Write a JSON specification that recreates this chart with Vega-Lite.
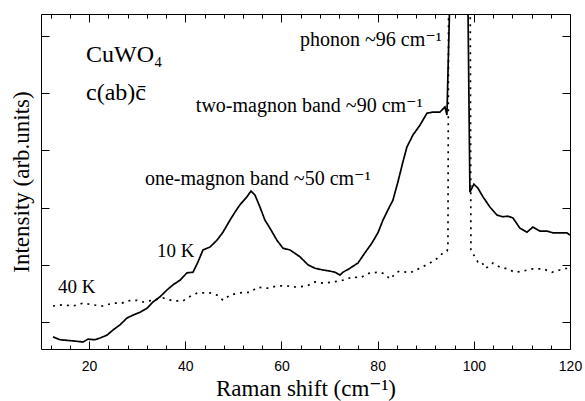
{
  "$schema": "https://vega.github.io/schema/vega-lite/v6.json",
  "width": 529,
  "height": 335,
  "autosize": "none",
  "padding": {"left": 41, "top": 14, "right": 15, "bottom": 52},
  "background": "white",
  "config": {
    "view": {"stroke": "black", "strokeWidth": 1},
    "axis": {"grid": false, "domain": false, "tickColor": "black", "tickWidth": 1, "labelColor": "black", "titleColor": "black", "labelFont": "Liberation Sans, Arial, sans-serif", "labelFontSize": 14, "titleFont": "Times New Roman, Liberation Serif, DejaVu Serif, serif", "titleFontSize": 23, "titleFontWeight": "normal"}
  },
  "datasets": {
    "spec": [
      {"T":"10K","x":12.49,"y":-0.26},{"T":"10K","x":13.95,"y":-0.31},{"T":"10K","x":16.65,"y":-0.33},{"T":"10K","x":18.73,"y":-0.35},{"T":"10K","x":19.77,"y":-0.30},{"T":"10K","x":21.23,"y":-0.31},{"T":"10K","x":22.27,"y":-0.28},{"T":"10K","x":23.72,"y":-0.23},{"T":"10K","x":24.97,"y":-0.14},{"T":"10K","x":26.42,"y":-0.05},{"T":"10K","x":27.88,"y":0.07},{"T":"10K","x":29.13,"y":0.12},{"T":"10K","x":30.58,"y":0.17},{"T":"10K","x":32.04,"y":0.24},{"T":"10K","x":33.28,"y":0.35},{"T":"10K","x":34.74,"y":0.44},{"T":"10K","x":36.20,"y":0.56},{"T":"10K","x":37.44,"y":0.65},{"T":"10K","x":38.90,"y":0.73},{"T":"10K","x":40.35,"y":0.86},{"T":"10K","x":41.60,"y":0.87},{"T":"10K","x":42.64,"y":1.05},{"T":"10K","x":43.68,"y":1.26},{"T":"10K","x":45.13,"y":1.31},{"T":"10K","x":46.59,"y":1.43},{"T":"10K","x":47.84,"y":1.57},{"T":"10K","x":49.29,"y":1.78},{"T":"10K","x":50.33,"y":1.92},{"T":"10K","x":51.37,"y":2.05},{"T":"10K","x":52.83,"y":2.19},{"T":"10K","x":53.66,"y":2.29},{"T":"10K","x":54.49,"y":2.22},{"T":"10K","x":55.53,"y":2.01},{"T":"10K","x":56.57,"y":1.78},{"T":"10K","x":57.61,"y":1.64},{"T":"10K","x":59.06,"y":1.43},{"T":"10K","x":60.31,"y":1.29},{"T":"10K","x":61.77,"y":1.26},{"T":"10K","x":63.85,"y":1.14},{"T":"10K","x":65.51,"y":1.00},{"T":"10K","x":66.96,"y":0.94},{"T":"10K","x":68.63,"y":0.91},{"T":"10K","x":70.08,"y":0.89},{"T":"10K","x":71.12,"y":0.87},{"T":"10K","x":72.16,"y":0.82},{"T":"10K","x":72.79,"y":0.87},{"T":"10K","x":74.24,"y":0.94},{"T":"10K","x":75.90,"y":1.03},{"T":"10K","x":77.36,"y":1.21},{"T":"10K","x":78.81,"y":1.38},{"T":"10K","x":80.06,"y":1.56},{"T":"10K","x":81.10,"y":1.78},{"T":"10K","x":82.14,"y":1.96},{"T":"10K","x":83.18,"y":2.13},{"T":"10K","x":84.22,"y":2.45},{"T":"10K","x":85.26,"y":2.80},{"T":"10K","x":86.09,"y":3.06},{"T":"10K","x":87.34,"y":3.27},{"T":"10K","x":88.79,"y":3.44},{"T":"10K","x":90.25,"y":3.65},{"T":"10K","x":91.50,"y":3.67},{"T":"10K","x":92.95,"y":3.67},{"T":"10K","x":93.99,"y":3.76},{"T":"10K","x":94.41,"y":3.62},{"T":"10K","x":95.4,"y":7.0},{"T":"10K","x":97.0,"y":7.5},{"T":"10K","x":98.6,"y":7.0},{"T":"10K","x":99.19,"y":2.27},{"T":"10K","x":100.02,"y":2.41},{"T":"10K","x":100.85,"y":2.34},{"T":"10K","x":101.89,"y":2.19},{"T":"10K","x":103.35,"y":2.01},{"T":"10K","x":104.80,"y":1.87},{"T":"10K","x":106.05,"y":1.84},{"T":"10K","x":107.09,"y":1.85},{"T":"10K","x":108.13,"y":1.82},{"T":"10K","x":109.58,"y":1.64},{"T":"10K","x":111.04,"y":1.57},{"T":"10K","x":112.29,"y":1.66},{"T":"10K","x":113.74,"y":1.59},{"T":"10K","x":115.20,"y":1.59},{"T":"10K","x":116.44,"y":1.56},{"T":"10K","x":117.90,"y":1.56},{"T":"10K","x":119.36,"y":1.56},{"T":"10K","x":119.98,"y":1.52},
      {"T":"40K","x":12.49,"y":0.28},{"T":"40K","x":14.57,"y":0.30},{"T":"40K","x":16.65,"y":0.28},{"T":"40K","x":18.73,"y":0.33},{"T":"40K","x":20.81,"y":0.30},{"T":"40K","x":22.89,"y":0.28},{"T":"40K","x":24.97,"y":0.33},{"T":"40K","x":26.84,"y":0.33},{"T":"40K","x":27.88,"y":0.37},{"T":"40K","x":29.96,"y":0.38},{"T":"40K","x":31.21,"y":0.35},{"T":"40K","x":33.28,"y":0.38},{"T":"40K","x":35.36,"y":0.42},{"T":"40K","x":37.44,"y":0.37},{"T":"40K","x":39.52,"y":0.37},{"T":"40K","x":41.39,"y":0.47},{"T":"40K","x":42.64,"y":0.51},{"T":"40K","x":45.13,"y":0.51},{"T":"40K","x":46.59,"y":0.47},{"T":"40K","x":47.84,"y":0.38},{"T":"40K","x":49.29,"y":0.47},{"T":"40K","x":51.37,"y":0.51},{"T":"40K","x":53.45,"y":0.52},{"T":"40K","x":55.11,"y":0.61},{"T":"40K","x":56.99,"y":0.59},{"T":"40K","x":59.06,"y":0.63},{"T":"40K","x":61.14,"y":0.63},{"T":"40K","x":63.22,"y":0.61},{"T":"40K","x":65.30,"y":0.63},{"T":"40K","x":66.96,"y":0.70},{"T":"40K","x":68.63,"y":0.68},{"T":"40K","x":70.71,"y":0.70},{"T":"40K","x":72.79,"y":0.73},{"T":"40K","x":74.86,"y":0.79},{"T":"40K","x":76.32,"y":0.77},{"T":"40K","x":78.40,"y":0.86},{"T":"40K","x":80.48,"y":0.87},{"T":"40K","x":81.52,"y":0.84},{"T":"40K","x":82.56,"y":0.75},{"T":"40K","x":84.01,"y":0.87},{"T":"40K","x":84.64,"y":0.89},{"T":"40K","x":86.72,"y":0.86},{"T":"40K","x":88.79,"y":0.94},{"T":"40K","x":90.87,"y":1.03},{"T":"40K","x":92.54,"y":1.12},{"T":"40K","x":93.58,"y":1.21},{"T":"40K","x":94.41,"y":1.24},{"T":"40K","x":94.62,"y":1.29},{"T":"40K","x":94.8,"y":7.0},{"T":"40K","x":97.0,"y":7.6},{"T":"40K","x":99.2,"y":7.0},{"T":"40K","x":99.40,"y":1.26},{"T":"40K","x":99.61,"y":1.22},{"T":"40K","x":100.23,"y":1.14},{"T":"40K","x":100.85,"y":1.05},{"T":"40K","x":101.68,"y":1.05},{"T":"40K","x":102.31,"y":0.94},{"T":"40K","x":102.93,"y":0.96},{"T":"40K","x":103.97,"y":1.03},{"T":"40K","x":105.43,"y":0.96},{"T":"40K","x":106.88,"y":0.93},{"T":"40K","x":108.54,"y":0.87},{"T":"40K","x":110.21,"y":0.89},{"T":"40K","x":112.29,"y":0.93},{"T":"40K","x":114.37,"y":0.93},{"T":"40K","x":116.24,"y":0.87},{"T":"40K","x":117.90,"y":0.91},{"T":"40K","x":119.36,"y":0.94},{"T":"40K","x":119.98,"y":0.96}
    ],
    "big": [
      {"label": "CuWO₄", "x": 19.36, "y": 4.55},
      {"label": "c(ab)c̄", "x": 19.36, "y": 3.88}
    ],
    "bands": [
      {"label": "phonon ~96 cm⁻¹", "x": 63.85, "y": 4.83},
      {"label": "two-magnon band ~90 cm⁻¹", "x": 42.2, "y": 3.67},
      {"label": "one-magnon band ~50 cm⁻¹", "x": 31.62, "y": 2.40}
    ],
    "temps": [
      {"label": "10 K", "x": 34.12, "y": 1.14},
      {"label": "40 K", "x": 13.53, "y": 0.51}
    ]
  },
  "resolve": {"axis": {"x": "independent", "y": "independent"}},
  "layer": [
    {
      "data": {"name": "spec"},
      "mark": {"type": "line", "clip": true, "strokeWidth": 1.7, "color": "black"},
      "encoding": {
        "x": {"field": "x", "type": "quantitative", "scale": {"domain": [10, 120], "nice": false, "zero": false},
          "title": "Raman shift (cm⁻¹)",
          "axis": {"orient": "bottom", "values": [12,16,20,24,28,32,36,40,44,48,52,56,60,64,68,72,76,80,84,88,92,96,100,104,108,112,116,120],
            "tickSize": {"condition": {"test": "datum.value % 20 === 0", "value": -8}, "value": -4},
            "labelExpr": "datum.value % 20 === 0 ? datum.label : ''",
            "labelPadding": 18, "labelFlush": false, "titlePadding": 4}},
        "y": {"field": "y", "type": "quantitative", "scale": {"domain": [-0.472, 5.385], "nice": false, "zero": false},
          "title": "Intensity (arb.units)",
          "axis": {"orient": "left", "values": [0,1,2,3,4,5], "tickSize": -8, "labels": false, "titlePadding": 7}},
        "strokeDash": {"field": "T", "type": "nominal", "scale": {"domain": ["10K", "40K"], "range": [[1, 0], [2, 5]]}, "legend": null}
      }
    },
    {
      "data": {"name": "big"},
      "mark": {"type": "text", "align": "left", "baseline": "alphabetic", "font": "Times New Roman, Liberation Serif, DejaVu Serif, serif", "fontSize": 24, "color": "black"},
      "encoding": {
        "x": {"field": "x", "type": "quantitative",
          "axis": {"orient": "top", "values": [12,16,20,24,28,32,36,40,44,48,52,56,60,64,68,72,76,80,84,88,92,96,100,104,108,112,116,120],
            "tickSize": {"condition": {"test": "datum.value % 20 === 0", "value": -8}, "value": -4},
            "labels": false, "title": null}},
        "y": {"field": "y", "type": "quantitative",
          "axis": {"orient": "right", "values": [0,1,2,3,4,5], "tickSize": -8, "labels": false, "title": null}},
        "text": {"field": "label"}
      }
    },
    {
      "data": {"name": "bands"},
      "mark": {"type": "text", "align": "left", "baseline": "alphabetic", "font": "Times New Roman, Liberation Serif, DejaVu Serif, serif", "fontSize": 20, "color": "black"},
      "encoding": {
        "x": {"field": "x", "type": "quantitative", "axis": null},
        "y": {"field": "y", "type": "quantitative", "axis": null},
        "text": {"field": "label"}
      }
    },
    {
      "data": {"name": "temps"},
      "mark": {"type": "text", "align": "left", "baseline": "alphabetic", "font": "Times New Roman, Liberation Serif, DejaVu Serif, serif", "fontSize": 19, "color": "black"},
      "encoding": {
        "x": {"field": "x", "type": "quantitative", "axis": null},
        "y": {"field": "y", "type": "quantitative", "axis": null},
        "text": {"field": "label"}
      }
    }
  ]
}
